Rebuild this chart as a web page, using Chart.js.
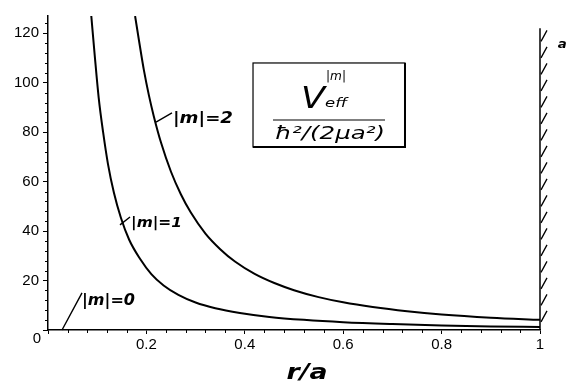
<!DOCTYPE html>
<html>
<head>
<meta charset="utf-8">
<script src="https://cdn.jsdelivr.net/npm/chart.js@4/dist/chart.umd.min.js"></script>
<style>
  html, body { margin: 0; padding: 0; background: #fff; }
  #c { display: block; }
</style>
</head>
<body>
<canvas id="c" width="570" height="384"></canvas>
<script>
// ---- data ----
const xTickLabels = [0, 0.2, 0.4, 0.6, 0.8, 1];
const yTickLabels = [0, 20, 40, 60, 80, 100, 120];

const xM0 = [0, 1];
const yM0 = [0, 0];

const xM1 = [0.088, 0.095, 0.103, 0.112, 0.122, 0.134, 0.148, 0.165, 0.187, 0.21, 0.235, 0.265, 0.3, 0.34, 0.39, 0.45, 0.52, 0.6, 0.7, 0.8, 0.9, 1.0];
const yM1 = [127, 111, 94, 80, 67, 55.5, 45.5, 36.5, 28.8, 22.6, 18, 14.2, 11.1, 8.8, 6.9, 5.3, 4.1, 3.15, 2.4, 1.85, 1.45, 1.2];

const xM2 = [0.177, 0.185, 0.195, 0.205, 0.215, 0.23, 0.25, 0.27, 0.29, 0.32, 0.35, 0.38, 0.42, 0.46, 0.5, 0.55, 0.6, 0.66, 0.73, 0.8, 0.9, 1.0];
const yM2 = [127, 117, 105, 95, 86.5, 75.6, 64, 54.9, 47.6, 39, 32.7, 27.7, 22.7, 19.0, 16.1, 13.3, 11.2, 9.3, 7.6, 6.3, 5.0, 4.1];

const seriesNames = ['|m|=0', '|m|=1', '|m|=2'];

// ---- build ----
function pts(xs, ys) { return xs.map((x, i) => ({ x: x, y: ys[i] })); }

const TICK_FONT = { family: "'Liberation Sans', Arial, sans-serif", size: 15 };
const HAND = "'DejaVu Sans', sans-serif";

function fitText(ctx, text, left, baseline, width, size, weight) {
  ctx.save();
  ctx.font = 'italic ' + (weight || '') + ' ' + size + 'px ' + HAND;
  const w = ctx.measureText(text).width;
  ctx.translate(left, baseline);
  ctx.scale(width / w, 1);
  ctx.textAlign = 'left';
  ctx.textBaseline = 'alphabetic';
  ctx.fillText(text, 0, 0);
  ctx.restore();
}

const decor = {
  id: 'decor',
  afterDraw(chart) {
    const ctx = chart.ctx;
    const xs = chart.scales.x, ys = chart.scales.y;
    const X = v => xs.getPixelForValue(v);
    const Y = v => ys.getPixelForValue(v);
    ctx.save();
    ctx.strokeStyle = '#000';
    ctx.fillStyle = '#000';

    // minor ticks
    ctx.lineWidth = 1;
    ctx.beginPath();
    for (let v = 4; v < 127; v += 4) {
      if (v % 20 === 0) continue;
      ctx.moveTo(X(0) - 3, Math.round(Y(v)) + 0.5);
      ctx.lineTo(X(0), Math.round(Y(v)) + 0.5);
    }
    for (let k = 1; k < 25; k++) {
      if (k % 5 === 0) continue;
      const v = k * 0.04;
      ctx.moveTo(Math.round(X(v)) + 0.5, Y(0));
      ctx.lineTo(Math.round(X(v)) + 0.5, Y(0) + 3);
    }
    ctx.stroke();

    // origin label
    ctx.font = TICK_FONT.size + 'px ' + TICK_FONT.family;
    ctx.textAlign = 'center';
    ctx.textBaseline = 'alphabetic';
    ctx.fillText('0', X(0) - 11, Y(0) + 13);

    // wall at r = a
    const wx = X(1);
    ctx.lineWidth = 1.5;
    ctx.beginPath();
    ctx.moveTo(wx, Y(122));
    ctx.lineTo(wx, Y(0));
    ctx.stroke();
    ctx.lineWidth = 1.3;
    ctx.beginPath();
    for (let py = Y(122) + 2; py < Y(0) - 4; py += 16.5) {
      ctx.moveTo(wx + 1, py + 11);
      ctx.lineTo(wx + 7, py);
    }
    ctx.stroke();
    fitText(ctx, 'a', X(1.036), Y(114), 9, 13, 'bold');

    // curve labels with leader lines
    ctx.lineWidth = 1.4;
    ctx.beginPath();
    ctx.moveTo(X(0.2195), Y(84.1)); ctx.lineTo(X(0.252), Y(87.8));
    ctx.moveTo(X(0.1463), Y(42.5)); ctx.lineTo(X(0.1667), Y(45.7));
    ctx.moveTo(X(0.0285), Y(0)); ctx.lineTo(X(0.0691), Y(15.0));
    ctx.stroke();
    fitText(ctx, seriesNames[2], X(0.254), Y(83.7), 60, 16, 'bold');
    fitText(ctx, seriesNames[1], X(0.1687), Y(41.7), 51, 14, 'bold');
    fitText(ctx, seriesNames[0], X(0.0691), Y(10.1), 53, 16, 'bold');

    // formula box
    const bx0 = X(0.4167), bx1 = X(0.7256), by0 = Y(108.0), by1 = Y(74.0);
    ctx.lineWidth = 1.2;
    ctx.strokeRect(bx0, by0, bx1 - bx0, by1 - by0);
    ctx.lineWidth = 2;
    ctx.beginPath();
    ctx.moveTo(bx1, by0); ctx.lineTo(bx1, by1); ctx.lineTo(bx0, by1);
    ctx.stroke();
    const cx = (bx0 + bx1) / 2;
    fitText(ctx, 'V', cx - 28, by0 + 45, 24, 30);
    fitText(ctx, '|m|', cx - 3, by0 + 17, 20, 12);
    fitText(ctx, 'eff', cx - 4, by0 + 44, 22, 13);
    ctx.lineWidth = 1.2;
    ctx.beginPath();
    ctx.moveTo(cx - 56, by0 + 57); ctx.lineTo(cx + 56, by0 + 57);
    ctx.stroke();
    fitText(ctx, 'ħ²/(2μa²)', cx - 54, by0 + 76, 110, 17);

    // x axis title
    fitText(ctx, 'r/a', X(0.485), Y(0) + 49, 41, 22, 'bold');
    ctx.restore();
  }
};

const lineStyle = {
  borderColor: '#000', borderWidth: 2, pointRadius: 0, fill: false,
  cubicInterpolationMode: 'monotone'
};

new Chart(document.getElementById('c'), {
  type: 'line',
  data: {
    datasets: [
      Object.assign({ label: seriesNames[0], data: pts(xM0, yM0) }, lineStyle, { borderWidth: 1.5 }),
      Object.assign({ label: seriesNames[1], data: pts(xM1, yM1) }, lineStyle),
      Object.assign({ label: seriesNames[2], data: pts(xM2, yM2) }, lineStyle)
    ]
  },
  options: {
    responsive: false,
    animation: false,
    devicePixelRatio: 1,
    layout: { padding: { top: 16, right: 30, left: 0, bottom: 0 } },
    plugins: { legend: { display: false }, tooltip: { enabled: false }, title: { display: false } },
    scales: {
      x: {
        type: 'linear', min: 0, max: 1,
        afterFit(s) { s.height = 54; },
        afterBuildTicks(s) { s.ticks = xTickLabels.map(v => ({ value: v })); },
        ticks: {
          color: '#000', font: TICK_FONT, padding: 2, maxRotation: 0,
          callback: v => (v === 0 ? '' : String(v))
        },
        grid: { drawOnChartArea: false, drawTicks: true, tickLength: 4, color: '#000', lineWidth: 1 },
        border: { display: true, color: '#000', width: 1.5 }
      },
      y: {
        type: 'linear', min: 0, max: 127,
        afterFit(s) { s.width = 48; },
        afterBuildTicks(s) { s.ticks = yTickLabels.map(v => ({ value: v })); },
        ticks: {
          color: '#000', font: TICK_FONT, padding: 4,
          callback: v => (v === 0 ? '' : String(v))
        },
        grid: { drawOnChartArea: false, drawTicks: true, tickLength: 5, color: '#000', lineWidth: 1 },
        border: { display: true, color: '#000', width: 1.5 }
      }
    }
  },
  plugins: [decor]
});
</script>
</body>
</html>
